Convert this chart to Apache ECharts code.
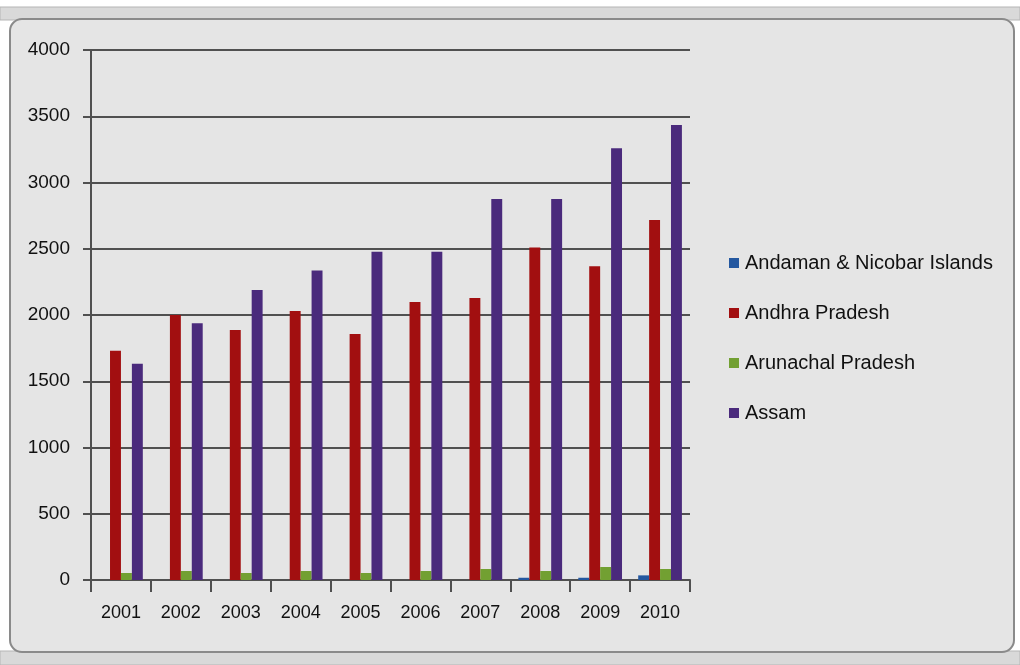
<!DOCTYPE html>
<html>
<head>
<meta charset="utf-8">
<script src="https://cdn.jsdelivr.net/npm/echarts@6/dist/echarts.min.js"></script>
<style>
html,body{margin:0;padding:0;background:#ffffff;}
#c{width:1020px;height:665px;}
</style>
</head>
<body>
<div id="c"></div>
<script>
var years = ['2001','2002','2003','2004','2005','2006','2007','2008','2009','2010'];
var andaman = [0, 0, 0, 0, 0, 0, 0, 17, 17, 35];
var andhra = [1730, 2000, 1887, 2030, 1857, 2098, 2128, 2510, 2367, 2717];
var arunachal = [53, 68, 53, 68, 53, 68, 83, 68, 98, 83];
var assam = [1632, 1937, 2189, 2335, 2478, 2478, 2875, 2875, 3258, 3434];
var seriesNames = ['Andaman & Nicobar Islands', 'Andhra Pradesh', 'Arunachal Pradesh', 'Assam'];
var colors = ['#2458a0', '#a20f10', '#72a032', '#4a2a7c'];

var FONT = 'Liberation Sans';
var chart = echarts.init(document.getElementById('c'), null, {renderer: 'canvas'});
function bar(name, data, color) {
  return {
    name: name, type: 'bar', data: data,
    barGap: '0%', barCategoryGap: '27%',
    itemStyle: {color: color},
    emphasis: {disabled: true}
  };
}
chart.setOption({
  animation: false,
  color: colors,
  textStyle: {fontFamily: FONT},
  graphic: [
    {type: 'rect', z: -10, shape: {x: 0, y: 7, width: 1020, height: 13}, style: {fill: '#d9d9d9', stroke: '#b5b5b5', lineWidth: 1}},
    {type: 'rect', z: -10, shape: {x: 0, y: 651, width: 1020, height: 14}, style: {fill: '#d9d9d9', stroke: '#b5b5b5', lineWidth: 1}},
    {type: 'rect', z: -9, shape: {x: 10, y: 19, width: 1004, height: 633, r: 12}, style: {fill: '#e5e5e5', stroke: '#8a8a8a', lineWidth: 2}}
  ],
  grid: {left: 91, right: 330, top: 50, bottom: 85, containLabel: false},
  legend: {
    orient: 'vertical', left: 724, top: 248,
    itemWidth: 10, itemHeight: 10, itemGap: 30,
    icon: 'rect',
    data: seriesNames,
    textStyle: {fontSize: 20, color: '#111111', fontFamily: FONT, lineHeight: 20, padding: [0,0,0,1]}
  },
  xAxis: {
    type: 'category', data: years,
    axisLine: {lineStyle: {color: '#505050', width: 2}},
    axisTick: {show: true, length: 12, lineStyle: {color: '#505050', width: 2}, alignWithLabel: false},
    axisLabel: {fontSize: 18, color: '#111111', margin: 24, fontFamily: FONT}
  },
  yAxis: {
    type: 'value', min: 0, max: 4000, interval: 500,
    axisLine: {show: true, lineStyle: {color: '#505050', width: 2}},
    axisTick: {show: true, length: 8, lineStyle: {color: '#505050', width: 2}},
    axisLabel: {fontSize: 19, color: '#111111', margin: 21, fontFamily: FONT, formatter: function (v) { return String(v); }},
    splitLine: {lineStyle: {color: '#505050', width: 2}}
  },
  series: [
    bar(seriesNames[0], andaman, colors[0]),
    bar(seriesNames[1], andhra, colors[1]),
    bar(seriesNames[2], arunachal, colors[2]),
    bar(seriesNames[3], assam, colors[3])
  ]
});
</script>
</body>
</html>
